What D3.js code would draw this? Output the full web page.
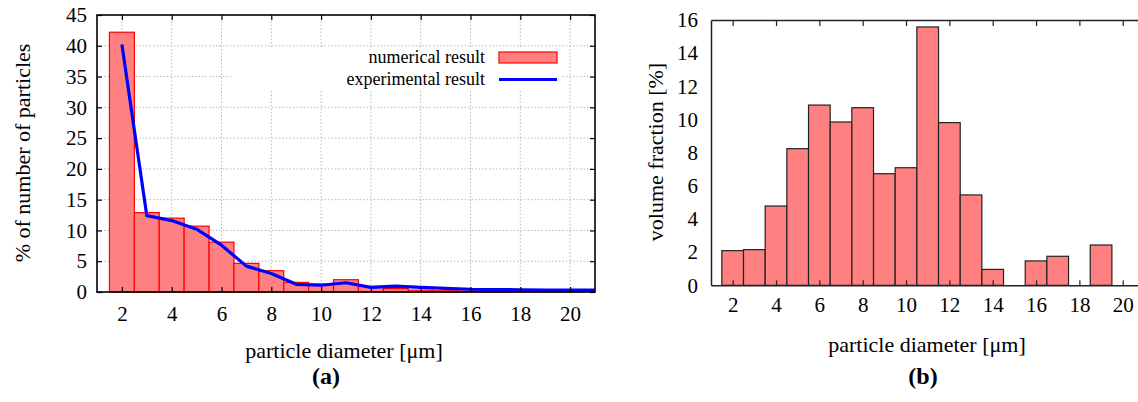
<!DOCTYPE html>
<html><head><meta charset="utf-8">
<script src="https://cdn.jsdelivr.net/npm/d3@7"></script>
<style>
body{margin:0;background:#fff;}
svg{display:block;}
svg text{font-family:"Liberation Serif","Times New Roman",serif !important;}
</style></head>
<body><svg id="c" width="1138" height="402"></svg>
<script>
// ---- Data ----
const diamA = [2,3,4,5,6,7,8,9,10,11,12,13,14,15,16,17,18,19,20];
const numericalA = [42.2,12.9,12.0,10.7,8.1,4.65,3.46,1.57,1.3,2.0,0.9,0.55,0.3,0.2,0.15,0.1,0.1,0.05,0.05];
const expDiam = [2,3,4,5,6,7,8,9,10,11,12,13,14,15,16,17,18,19,20,21];
const experimentalA = [40.2,12.4,11.6,10.2,7.6,4.2,3.0,1.25,1.1,1.5,0.75,0.95,0.75,0.6,0.45,0.4,0.35,0.3,0.3,0.3];
const xTicksA = [2,4,6,8,10,12,14,16,18,20];
const yTicksA = [0,5,10,15,20,25,30,35,40,45];

const diamB = [2,3,4,5,6,7,8,9,10,11,12,13,14,15,16,17,18,19,20];
const volumeB = [2.09,2.15,4.78,8.24,10.87,9.85,10.71,6.73,7.09,15.58,9.81,5.45,0.96,0,1.47,1.75,0,2.43,0];
const xTicksB = [2,4,6,8,10,12,14,16,18,20];
const yTicksB = [0,2,4,6,8,10,12,14,16];

const svg = d3.select("#c");
const FS = 21, TFS = 22;

// ---- Chart (a) ----
const xA = d3.scaleLinear().domain([1,21]).range([97,595]);
const yA = d3.scaleLinear().domain([0,45]).range([292,15]);
const gA = svg.append("g");

// grid
gA.append("g").selectAll("line").data(xTicksA).join("line")
  .attr("x1",d=>xA(d)).attr("x2",d=>xA(d)).attr("y1",yA(0)).attr("y2",yA(45))
  .attr("stroke","#b8b8b8").attr("stroke-width",1).attr("stroke-dasharray","1.5,2");
gA.append("g").selectAll("line").data(yTicksA.slice(1,-1)).join("line")
  .attr("x1",xA(1)).attr("x2",xA(21)).attr("y1",d=>yA(d)).attr("y2",d=>yA(d))
  .attr("stroke","#b8b8b8").attr("stroke-width",1).attr("stroke-dasharray","1.5,2");

// opaque key box
gA.append("rect").attr("x",232).attr("y",47.5).attr("width",329).attr("height",42.5).attr("fill","#fff");

// bars
gA.append("g").selectAll("rect").data(diamA.map((d,i)=>({d,v:numericalA[i]}))).join("rect")
  .attr("x",p=>xA(p.d-0.5)).attr("width",p=>xA(p.d+0.5)-xA(p.d-0.5))
  .attr("y",p=>yA(p.v)).attr("height",p=>yA(0)-yA(p.v))
  .attr("fill","#ff8080").attr("stroke","#ff0000").attr("stroke-width",1.2);

// line
gA.append("path").datum(expDiam.map((d,i)=>[d,experimentalA[i]]))
  .attr("d",d3.line().x(p=>xA(p[0])).y(p=>yA(p[1])))
  .attr("fill","none").attr("stroke","#0000ff").attr("stroke-width",3.2).attr("stroke-linejoin","round");

// border
gA.append("rect").attr("x",xA(1)).attr("y",yA(45)).attr("width",xA(21)-xA(1)).attr("height",yA(0)-yA(45))
  .attr("fill","none").attr("stroke","#000").attr("stroke-width",1.6);

// axes via d3
const axBA = gA.append("g").attr("transform",`translate(0,${yA(0)})`)
  .call(d3.axisBottom(xA).tickValues(xTicksA).tickSizeInner(-5).tickSizeOuter(0).tickPadding(14));
const axTA = gA.append("g").attr("transform",`translate(0,${yA(45)})`)
  .call(d3.axisTop(xA).tickValues(xTicksA).tickSizeInner(-5).tickSizeOuter(0).tickFormat(""));
const axLA = gA.append("g").attr("transform",`translate(${xA(1)},0)`)
  .call(d3.axisLeft(yA).tickValues(yTicksA).tickSizeInner(-5).tickSizeOuter(0).tickPadding(10));
const axRA = gA.append("g").attr("transform",`translate(${xA(21)},0)`)
  .call(d3.axisRight(yA).tickValues(yTicksA).tickSizeInner(-5).tickSizeOuter(0).tickFormat(""));
[axBA,axTA,axLA,axRA].forEach(a=>{a.select(".domain").remove();
  a.attr("font-family",null);
  a.selectAll("line").attr("stroke","#000").attr("stroke-width",1.2);
  a.selectAll("text").attr("font-size",FS).attr("fill","#000");});

// legend
const legA = gA.append("g").attr("font-size",18).attr("fill","#000");
legA.append("text").attr("x",485).attr("y",63).attr("text-anchor","end").text("numerical result");
legA.append("text").attr("x",485).attr("y",85).attr("text-anchor","end").text("experimental result");
legA.append("rect").attr("x",499).attr("y",52).attr("width",58).attr("height",11)
  .attr("fill","#ff8080").attr("stroke","#ff0000").attr("stroke-width",1.2);
legA.append("line").attr("x1",499).attr("x2",557).attr("y1",79.5).attr("y2",79.5)
  .attr("stroke","#0000ff").attr("stroke-width",3.2);

// titles
gA.append("text").attr("x",344).attr("y",358).attr("text-anchor","middle").attr("font-size",TFS).text("particle diameter [μm]");
gA.append("text").attr("transform","translate(30,153) rotate(-90)").attr("text-anchor","middle").attr("font-size",TFS).text("% of number of particles");
gA.append("text").attr("x",326).attr("y",384).attr("text-anchor","middle").attr("font-size",24).attr("font-weight","bold").text("(a)");

// ---- Chart (b) ----
const xB = d3.scaleLinear().domain([1,21]).range([711,1144.4]);
const yB = d3.scaleLinear().domain([0,16]).range([285.3,20]);
const gB = svg.append("g");

gB.append("g").selectAll("rect").data(diamB.map((d,i)=>({d,v:volumeB[i]})).filter(p=>p.v>0)).join("rect")
  .attr("x",p=>xB(p.d-0.5)).attr("width",p=>xB(p.d+0.5)-xB(p.d-0.5))
  .attr("y",p=>yB(p.v)).attr("height",p=>yB(0)-yB(p.v))
  .attr("fill","#ff8080").attr("stroke","#222").attr("stroke-width",1.2);

const axBB = gB.append("g").attr("transform",`translate(0,${yB(0)})`)
  .call(d3.axisBottom(xB).tickValues(xTicksB).tickSizeInner(-5).tickSizeOuter(0).tickPadding(12));
const axTB = gB.append("g").attr("transform",`translate(0,${yB(16)})`)
  .call(d3.axisTop(xB).tickValues(xTicksB).tickSizeInner(-6).tickSizeOuter(0).tickFormat(""));
const axLB = gB.append("g").attr("transform",`translate(${xB(1)},0)`)
  .call(d3.axisLeft(yB).tickValues(yTicksB).tickSizeInner(0).tickSizeOuter(0).tickPadding(13));
[axBB,axTB,axLB].forEach(a=>{
  a.attr("font-family",null);
  a.select(".domain").attr("stroke","#222").attr("stroke-width",1.5);
  a.selectAll("line").attr("stroke","#222").attr("stroke-width",1.2);
  a.selectAll("text").attr("font-size",FS).attr("fill","#000");});

gB.append("text").attr("x",927).attr("y",352).attr("text-anchor","middle").attr("font-size",TFS).text("particle diameter [μm]");
gB.append("text").attr("transform","translate(663,152) rotate(-90)").attr("text-anchor","middle").attr("font-size",TFS).text("volume fraction [%]");
gB.append("text").attr("x",923).attr("y",384).attr("text-anchor","middle").attr("font-size",24).attr("font-weight","bold").text("(b)");
</script></body></html>
